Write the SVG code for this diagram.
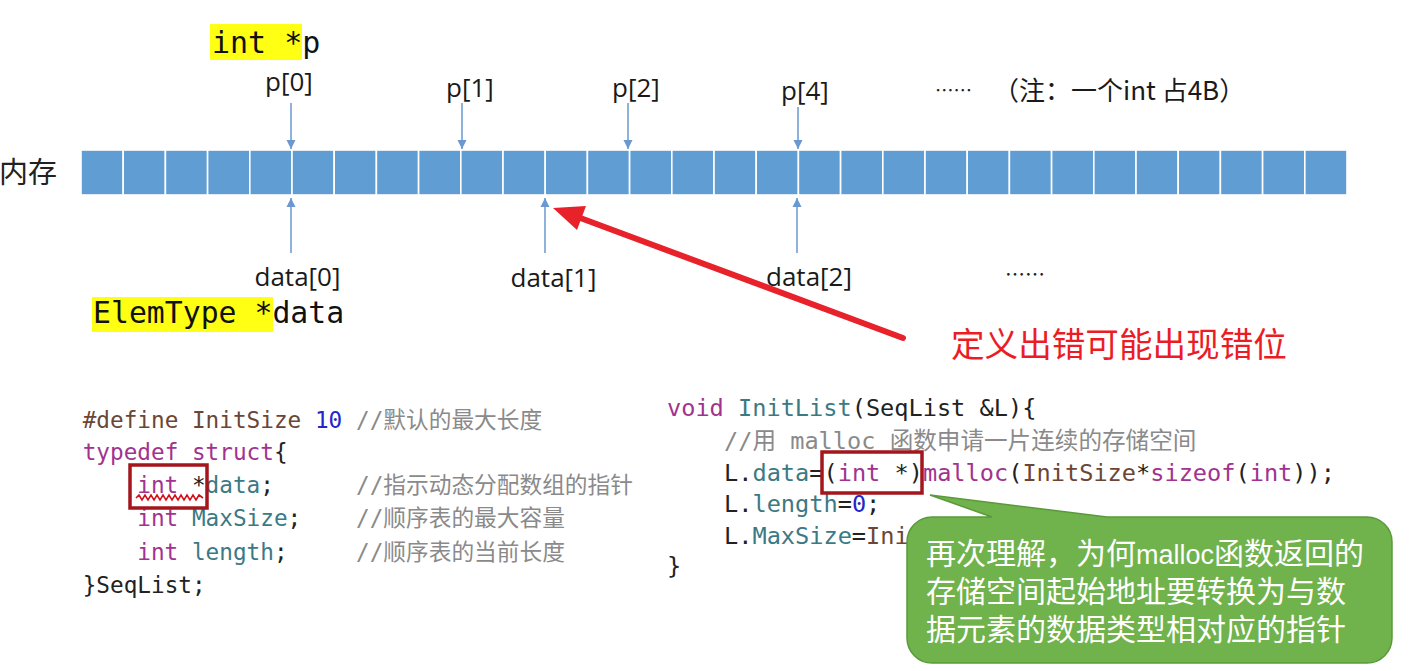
<svg xmlns="http://www.w3.org/2000/svg" width="1419" height="671" viewBox="0 0 1419 671">
<defs>
<style>
.lbl{font-family:"Open Sans","Liberation Sans",sans-serif;font-size:26px;fill:#1a1a1a;text-anchor:middle}
.mono{font-family:"DejaVu Sans Mono","Noto Sans CJK SC",monospace;fill:#111}
.cjk{font-family:"Noto Sans CJK SC",sans-serif}
.cl{font-family:"DejaVu Sans Mono","Noto Sans CJK SC",monospace;font-size:22.7px;fill:#222}
.cr{font-family:"DejaVu Sans Mono","Noto Sans CJK SC",monospace;font-size:23.6px;fill:#222}
.cm{fill:#8a8a8a}
.kw{fill:#a1338f}
.pp{fill:#6b4636}
.nm{fill:#2525c8}
.id{fill:#3b7a84}
.cell{fill:#5f9dd3;stroke:#ffffff;stroke-width:1.6}
.ba{stroke:#6a98cf;stroke-width:1.5;fill:none;marker-end:url(#ah)}
.box{fill:none;stroke:#a3161c;stroke-width:3.5}
</style>
<marker id="ah" markerUnits="userSpaceOnUse" markerWidth="10" markerHeight="10" refX="9" refY="5" orient="auto">
<path d="M0,0.5 L9,5 L0,9.5 z" fill="#6a98cf"/>
</marker>
</defs>
<rect width="1419" height="671" fill="#ffffff"/>

<g id="ptr-p">
<rect x="210" y="24" width="92" height="36" fill="#ffff14"/>
<text class="mono" x="212" y="53" font-size="30">int *p</text>
</g>

<g id="memory-label">
<text class="cjk" x="-1" y="183" font-size="29" fill="#222">内存</text>
</g>

<g id="memory">
<rect class="cell" x="81" y="150" width="42.2" height="45"/>
<rect class="cell" x="123.2" y="150" width="42.2" height="45"/>
<rect class="cell" x="165.4" y="150" width="42.2" height="45"/>
<rect class="cell" x="207.6" y="150" width="42.2" height="45"/>
<rect class="cell" x="249.8" y="150" width="42.2" height="45"/>
<rect class="cell" x="292" y="150" width="42.2" height="45"/>
<rect class="cell" x="334.2" y="150" width="42.2" height="45"/>
<rect class="cell" x="376.4" y="150" width="42.2" height="45"/>
<rect class="cell" x="418.6" y="150" width="42.2" height="45"/>
<rect class="cell" x="460.8" y="150" width="42.2" height="45"/>
<rect class="cell" x="503" y="150" width="42.2" height="45"/>
<rect class="cell" x="545.2" y="150" width="42.2" height="45"/>
<rect class="cell" x="587.4" y="150" width="42.2" height="45"/>
<rect class="cell" x="629.6" y="150" width="42.2" height="45"/>
<rect class="cell" x="671.8" y="150" width="42.2" height="45"/>
<rect class="cell" x="714" y="150" width="42.2" height="45"/>
<rect class="cell" x="756.2" y="150" width="42.2" height="45"/>
<rect class="cell" x="798.4" y="150" width="42.2" height="45"/>
<rect class="cell" x="840.6" y="150" width="42.2" height="45"/>
<rect class="cell" x="882.8" y="150" width="42.2" height="45"/>
<rect class="cell" x="925" y="150" width="42.2" height="45"/>
<rect class="cell" x="967.2" y="150" width="42.2" height="45"/>
<rect class="cell" x="1009.4" y="150" width="42.2" height="45"/>
<rect class="cell" x="1051.6" y="150" width="42.2" height="45"/>
<rect class="cell" x="1093.8" y="150" width="42.2" height="45"/>
<rect class="cell" x="1136" y="150" width="42.2" height="45"/>
<rect class="cell" x="1178.2" y="150" width="42.2" height="45"/>
<rect class="cell" x="1220.4" y="150" width="42.2" height="45"/>
<rect class="cell" x="1262.6" y="150" width="42.2" height="45"/>
<rect class="cell" x="1304.8" y="150" width="42.2" height="45"/>
</g>

<g id="labels-p">
<text class="lbl" x="289" y="91">p[0]</text>
<text class="lbl" x="470" y="97">p[1]</text>
<text class="lbl" x="636" y="97">p[2]</text>
<text class="lbl" x="805" y="100">p[4]</text>
<text class="cjk" x="935" y="97" font-size="18.5" fill="#222">……</text>
<text x="993" y="100" font-size="26" fill="#1a1a1a" font-family="Noto Sans CJK SC, sans-serif">（注：一个int 占4B）</text>
</g>

<g id="labels-data">
<text class="lbl" x="297.5" y="286">data[0]</text>
<text class="lbl" x="553.5" y="286.5">data[1]</text>
<text class="lbl" x="809" y="286">data[2]</text>
<text class="cjk" x="1005" y="282" font-size="20" fill="#222">……</text>
</g>

<g id="ptr-data">
<rect x="92" y="297" width="181" height="35" fill="#ffff14"/>
<text class="mono" x="93" y="323" font-size="29.8">ElemType *data</text>
</g>

<g id="connectors">
<line class="ba" x1="291" y1="103" x2="291" y2="149"/>
<line class="ba" x1="462" y1="103" x2="462" y2="149"/>
<line class="ba" x1="628" y1="103" x2="628" y2="149"/>
<line class="ba" x1="798" y1="107" x2="798" y2="149"/>
<line class="ba" x1="291" y1="253" x2="291" y2="198"/>
<line class="ba" x1="545" y1="253" x2="545" y2="198"/>
<line class="ba" x1="797" y1="253" x2="797" y2="198"/>
<line x1="903" y1="338" x2="575" y2="216" stroke="#e8222a" stroke-width="6" stroke-linecap="round"/>
<polygon points="553,208 586,206 577,230" fill="#e8222a"/>
</g>

<g id="warning">
<text class="cjk" x="951" y="357" font-size="33.6" fill="#ec1c24">定义出错可能出现错位</text>
</g>

<g id="code-struct">
<text class="cl" x="82.7" y="428"><tspan class="pp">#define InitSize</tspan> <tspan class="nm">10</tspan></text>
<text class="cl" x="82.7" y="460"><tspan class="kw">typedef struct</tspan>{</text>
<text class="cl" x="137.3" y="493"><tspan class="kw">int</tspan> *<tspan class="id">data</tspan>;</text>
<text class="cl" x="137.3" y="526"><tspan class="kw">int</tspan> <tspan class="id">MaxSize</tspan>;</text>
<text class="cl" x="137.3" y="560"><tspan class="kw">int</tspan> <tspan class="id">length</tspan>;</text>
<text class="cl" x="82.7" y="593">}SeqList;</text>
<text class="cl cm" x="356" y="428" font-size="24">//默认的最大长度</text>
<text class="cl cm" x="356" y="493" font-size="24">//指示动态分配数组的指针</text>
<text class="cl cm" x="356" y="526" font-size="24">//顺序表的最大容量</text>
<text class="cl cm" x="356" y="560" font-size="24">//顺序表的当前长度</text>
<rect class="box" x="130" y="465" width="77" height="43"/>
<polyline points="136,498 139,495 142,500 145,495 148,500 151,495 154,500 157,495 160,500 163,495 166,500 169,495 172,500 175,495 178,500 181,495 184,500 187,495 190,500 193,495 196,500 199,495 203,498" fill="none" stroke="#d0101a" stroke-width="1.6"/>
</g>

<g id="code-init">
<text class="cr" x="667" y="416"><tspan class="kw">void</tspan> <tspan class="id">InitList</tspan>(SeqList &amp;L){</text>
<text class="cr cm" x="724" y="448.5" xml:space="preserve">//用 malloc 函数申请一片连续的存储空间</text>
<text class="cr" x="724" y="481">L.<tspan class="id">data</tspan>=(<tspan class="kw">int</tspan> *)<tspan class="kw">malloc</tspan>(<tspan class="pp">InitSize</tspan>*<tspan class="kw">sizeof</tspan>(<tspan class="kw">int</tspan>));</text>
<text class="cr" x="724" y="512">L.<tspan class="id">length</tspan>=<tspan class="nm">0</tspan>;</text>
<text class="cr" x="724" y="543.5">L.<tspan class="id">MaxSize</tspan>=<tspan class="pp">Ini</tspan></text>
<text class="cr" x="667" y="574">}</text>
<rect class="box" x="822" y="452" width="100" height="41"/>
</g>

<g id="callout">
<path d="M907,542 A25,25 0 0 1 932,517 L992,517 L930,495 L1107,517 L1367,517 A25,25 0 0 1 1392,542 L1392,638 A25,25 0 0 1 1367,663 L932,663 A25,25 0 0 1 907,638 Z" fill="#70b24b" stroke="#5a9a3a" stroke-width="1.5"/>
<text class="cjk" font-size="30" fill="#ffffff"><tspan x="926" y="564">再次理解，为何<tspan font-family="Liberation Sans, sans-serif" font-size="27">malloc</tspan>函数返回的</tspan><tspan x="926" y="602">存储空间起始地址要转换为与数</tspan><tspan x="926" y="640">据元素的数据类型相对应的指针</tspan></text>
</g>
</svg>
